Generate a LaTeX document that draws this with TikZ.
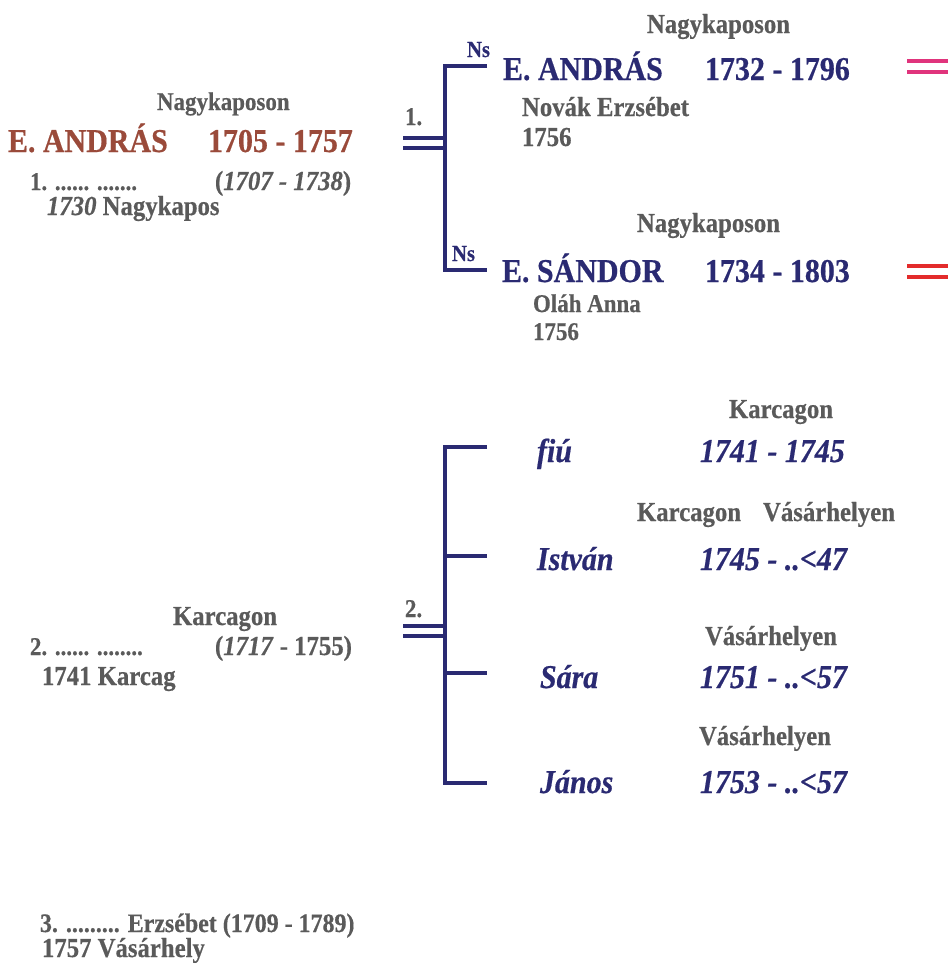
\documentclass[tikz,border=0pt]{standalone}
\usepackage{fontspec}
\setmainfont{Liberation Serif}[FakeStretch=0.9, BoldFeatures={FakeBold=0.5}, BoldItalicFeatures={FakeBold=0.5}]
\definecolor{gtxt}{HTML}{5A5A5A}
\definecolor{brn}{HTML}{9A4A3A}
\definecolor{nvy}{HTML}{2A2A72}
\definecolor{pnk}{HTML}{E0347C}
\definecolor{rd}{HTML}{E32B2B}
\tikzset{
  t/.style={anchor=base west, inner sep=0pt, outer sep=0pt, font=\bfseries},
  gr/.style={t, text=gtxt, font=\bfseries\fontsize{27.5}{30}\selectfont},
  grs/.style={t, text=gtxt, font=\bfseries\fontsize{25.5}{28}\selectfont},
  grm/.style={t, text=gtxt, font=\bfseries\fontsize{26.6}{29}\selectfont},
  bn/.style={t, text=brn, font=\bfseries\fontsize{33.3}{36}\selectfont},
  nv/.style={t, text=nvy, font=\bfseries\fontsize{33.3}{36}\selectfont},
  nvi/.style={t, text=nvy, font=\bfseries\itshape\fontsize{33.3}{36}\selectfont},
  ns/.style={t, text=nvy, font=\bfseries\fontsize{23}{26}\selectfont},
  br/.style={draw=nvy, line width=3.4pt},
  dbl/.style={line width=3.2pt},
}
\begin{document}
\begin{tikzpicture}[x=1pt, y=-1pt]
\useasboundingbox (0,0) rectangle (948,964);

% ---------- left: parent ----------
\node[grs] (pplace) at (157,110) {Nagykaposon};
\node[bn] (pname) at (8,152) {E. ANDRÁS};
\node[bn] (pdates) at (208,152) {1705 - 1757};
\node[grs] (w1) at (30,190) {1. ...... .......};
\node[gr] (w1d) at (215,190) {(\textit{1707 - 1738})};
\node[gr] (w1m) at (47,215) {\textit{1730} Nagykapos};

\node[gr] (w2p) at (173,625) {Karcagon};
\node[grs] (w2) at (30,655) {2. ...... ........};
\node[gr] (w2d) at (215,655) {(\textit{1717} - 1755)};
\node[gr] (w2m) at (42,685) {1741 Karcag};

\node[grm] (w3) at (40,932) {3. ......... Erzsébet (1709 - 1789)};
\node[gr] (w3m) at (42,957) {1757 Vásárhely};

% ---------- marriage 1 ----------
\node[grs] (m1) at (405,125) {1.};
\coordinate (m1a) at (403,138);
\coordinate (m1b) at (403,148);
\coordinate (v1t) at (445,66);
\coordinate (v1b) at (445,270);
\coordinate (h1t) at (487,66);
\coordinate (h1b) at (487,270);
\draw[br, dbl] (m1a) -- (m1a -| v1t);
\draw[br, dbl] (m1b) -- (m1b -| v1t);
\draw[br, line join=miter] (h1t) -- (v1t) -- (v1b) -- (h1b);

\node[ns] (ns1) at (467,57) {Ns};
\node[gr] (c1p) at (647,33) {Nagykaposon};
\node[nv] (c1) at (503,80) {E. ANDRÁS};
\node[nv] (c1d) at (705,80) {1732 - 1796};
\node[gr] (c1w) at (522,116) {Novák Erzsébet};
\node[gr] (c1y) at (522,146) {1756};
\coordinate (pk1) at (907,61);
\coordinate (pk2) at (907,72);
\draw[draw=pnk, dbl] (pk1) -- ++(41,0);
\draw[draw=pnk, dbl] (pk2) -- ++(41,0);

\node[ns] (ns2) at (452,261) {Ns};
\node[gr] (c2p) at (637,232) {Nagykaposon};
\node[nv] (c2) at (502,282) {E. SÁNDOR};
\node[nv] (c2d) at (705,282) {1734 - 1803};
\node[grs] (c2w) at (533,312) {Oláh Anna};
\node[grs] (c2y) at (533,340) {1756};
\coordinate (rd1) at (907,266);
\coordinate (rd2) at (907,277);
\draw[draw=rd, dbl] (rd1) -- ++(41,0);
\draw[draw=rd, dbl] (rd2) -- ++(41,0);

% ---------- marriage 2 ----------
\node[grs] (m2) at (405,617) {2.};
\coordinate (m2a) at (403,626);
\coordinate (m2b) at (403,636);
\coordinate (v2t) at (445,447);
\coordinate (v2b) at (445,783);
\coordinate (h2a) at (487,447);
\coordinate (h2b) at (487,556);
\coordinate (h2c) at (487,673);
\coordinate (h2d) at (487,783);
\draw[br, dbl] (m2a) -- (m2a -| v2t);
\draw[br, dbl] (m2b) -- (m2b -| v2t);
\draw[br, line join=miter] (h2a) -- (v2t) -- (v2b) -- (h2d);
\draw[br] (h2b -| v2t) -- (h2b);
\draw[br] (h2c -| v2t) -- (h2c);

\node[gr] (k1p) at (729,418) {Karcagon};
\node[nvi] (k1) at (537,462) {fiú};
\node[nvi] (k1d) at (700,462) {1741 - 1745};

\node[gr] (k2p) at (637,521) {Karcagon\hspace{22pt}Vásárhelyen};
\node[nvi] (k2) at (537,570) {István};
\node[nvi] (k2d) at (700,570) {1745 - ..<47};

\node[gr] (k3p) at (705,645) {Vásárhelyen};
\node[nvi] (k3) at (540,688) {Sára};
\node[nvi] (k3d) at (700,688) {1751 - ..<57};

\node[gr] (k4p) at (699,745) {Vásárhelyen};
\node[nvi] (k4) at (540,793) {János};
\node[nvi] (k4d) at (700,793) {1753 - ..<57};
\end{tikzpicture}
\end{document}
